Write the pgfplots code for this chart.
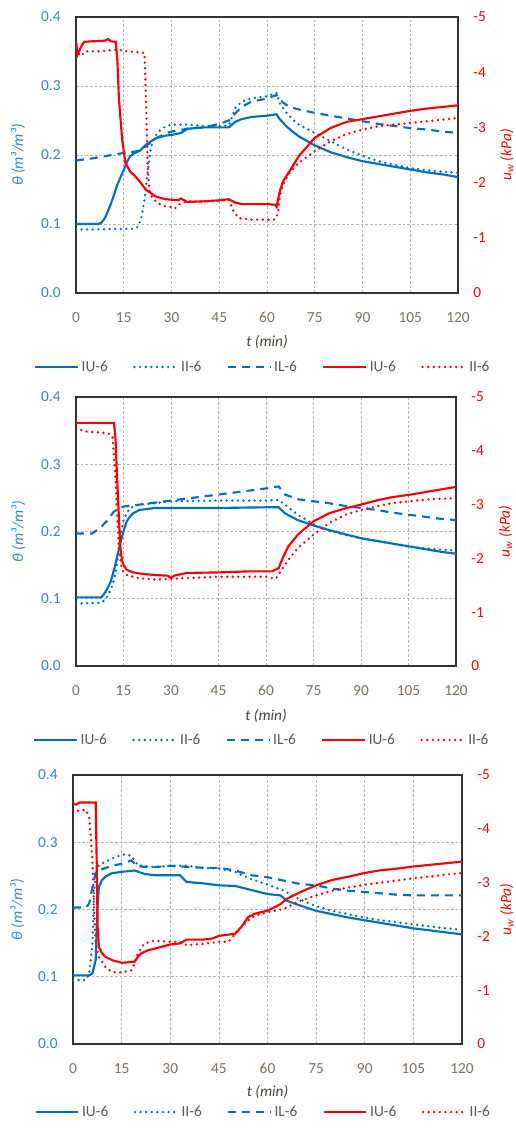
\documentclass[border=0pt]{standalone}
\usepackage{fontspec}
\setmainfont{Carlito}
\usepackage{pgfplots}
\pgfplotsset{compat=1.18}

\definecolor{Blu}{HTML}{0070C0}
\definecolor{BluTxt}{HTML}{2F86D2}
\definecolor{Rd}{HTML}{FF0000}
\definecolor{Brn}{HTML}{7F6F60}
\definecolor{Gry}{HTML}{595959}
\definecolor{GridC}{HTML}{B4B4B4}

\pgfplotsset{
  bsolid/.style={Blu, line width=1.6pt},
  bdot/.style={Blu, line width=2pt, line cap=round, dash pattern=on 0pt off 4.2pt},
  bdash/.style={Blu, line width=1.6pt, dash pattern=on 6pt off 4.5pt},
  rsolid/.style={Rd, line width=1.6pt},
  rdot/.style={Rd, line width=2pt, line cap=round, dash pattern=on 0pt off 4.2pt},
  common/.style={
    scale only axis,
    xmin=0, xmax=120,
    major tick length=0pt,
    ticklabel style={font=\fontsize{11.5}{13}\selectfont},
    /pgf/number format/assume math mode=true,
  },
  leftax/.style={
    common,
    ymin=0, ymax=0.4,
    xtick={0,15,...,120},
    ytick={0,0.1,0.2,0.3,0.4},
    grid=major,
    grid style={GridC, line width=0.5pt, dash pattern=on 2pt off 1.5pt},
    axis line style={black!80, line width=0.8pt},
    xticklabel style={Brn},
    yticklabel style={BluTxt, /pgf/number format/.cd, fixed, fixed zerofill, precision=1},
    xticklabel shift=11pt,
    yticklabel shift=8pt,
    xlabel={\itshape t (min)},
    xlabel style={font=\fontsize{11.5}{13}\selectfont, Brn!60!black, anchor=center},
    ylabel={\itshape θ (m³/m³)},
    ylabel style={font=\fontsize{11.5}{13}\selectfont, BluTxt, anchor=center},
  },
  rightax/.style={
    common,
    ymin=-5, ymax=0, y dir=reverse,
    axis y line*=right, axis x line=none,
    axis line style={draw=none},
    ytick={-5,-4,-3,-2,-1,0},
    yticklabel style={Rd},
    yticklabel shift=8pt,
    ylabel={\itshape u\textsubscript{w} (kPa)},
    ylabel style={font=\fontsize{11.5}{13}\selectfont, Rd, anchor=center},
    legend columns=5,
    legend cell align=left,
    legend image code/.code={\draw[##1] (0pt,0pt) -- (32pt,0pt);},
    legend style={draw=none, fill=none, text=Gry, font=\fontsize{11.5}{13}\selectfont,
      anchor=center, /tikz/every even column/.append style={column sep=17pt}},
  },
}

\begin{document}
\begin{tikzpicture}
\path[use as bounding box] (0,0) rectangle (386.25pt,-846pt);

% ---------- panel 1 ----------
\begin{axis}[leftax, at={(57pt,-219.75pt)}, anchor=south west, width=286.5pt, height=207pt,
  xlabel style={at={(axis description cs:0.5,-0.178)}},
  ylabel style={at={(axis description cs:-0.152,0.5)}}]
\addplot[bsolid] coordinates {(0,0.100) (7,0.100) (8,0.102) (9,0.108) (10,0.118) (11,0.130) (12,0.143) (13,0.157) (14,0.168) (15,0.178) (16,0.190) (17,0.198) (18,0.202) (20,0.206) (22,0.215) (25,0.224) (28,0.228) (30,0.229) (33,0.232) (35,0.238) (40,0.240) (45,0.240) (48,0.240) (50,0.248) (52,0.252) (55,0.255) (60,0.257) (63,0.259) (64,0.252) (66,0.242) (68,0.234) (70,0.227) (75,0.214) (80,0.204) (85,0.197) (90,0.191) (95,0.187) (100,0.183) (105,0.179) (110,0.175) (115,0.172) (120,0.168)};
\addplot[bdot] coordinates {(0,0.092) (18,0.093) (19.5,0.096) (20.5,0.108) (21.5,0.135) (22.5,0.175) (23.5,0.210) (24.5,0.225) (26,0.234) (28,0.241) (30,0.244) (35,0.244) (40,0.242) (45,0.242) (48,0.243) (49,0.255) (50,0.268) (52,0.277) (55,0.282) (60,0.285) (63,0.290) (64,0.275) (66,0.262) (68,0.252) (70,0.244) (75,0.232) (80,0.220) (85,0.208) (90,0.199) (95,0.191) (100,0.186) (105,0.181) (110,0.178) (115,0.176) (120,0.174)};
\addplot[bdash] coordinates {(0,0.192) (5,0.195) (10,0.199) (15,0.203) (20,0.206) (22,0.213) (25,0.224) (28,0.231) (30,0.234) (35,0.238) (40,0.240) (45,0.245) (48,0.250) (50,0.260) (52,0.270) (55,0.277) (58,0.280) (60,0.282) (63,0.287) (65,0.276) (67,0.270) (70,0.266) (75,0.261) (80,0.257) (85,0.253) (90,0.249) (95,0.245) (100,0.242) (105,0.239) (110,0.237) (115,0.234) (120,0.232)};
\end{axis}
\begin{axis}[rightax, at={(57pt,-219.75pt)}, anchor=south west, width=286.5pt, height=207pt,
  ylabel style={at={(axis description cs:1.128,0.5)}},
  legend style={at={(axis description cs:0.49,-0.268)}}]
\addlegendimage{bsolid}\addlegendentry{IU-6}
\addlegendimage{bdot}\addlegendentry{II-6}
\addlegendimage{bdash}\addlegendentry{IL-6}
\addplot[rsolid] coordinates {(0,-4.56) (0.5,-4.32) (1.5,-4.45) (2.5,-4.55) (5,-4.56) (9,-4.57) (10,-4.60) (11,-4.56) (12.5,-4.55) (13,-4.20) (13.5,-3.50) (14.5,-2.78) (15.5,-2.36) (17,-2.20) (18.5,-2.12) (20,-2.02) (22,-1.87) (25,-1.75) (28,-1.70) (30,-1.69) (32,-1.68) (33,-1.71) (35,-1.65) (40,-1.66) (45,-1.68) (48,-1.70) (50,-1.64) (52,-1.61) (55,-1.61) (60,-1.61) (62.5,-1.60) (63,-1.56) (64,-1.84) (65,-2.02) (67,-2.20) (70,-2.48) (75,-2.81) (80,-2.99) (85,-3.10) (90,-3.15) (95,-3.20) (100,-3.25) (105,-3.30) (110,-3.34) (115,-3.37) (120,-3.40)};
\addlegendentry{IU-6}
\addplot[rdot] coordinates {(0,-4.41) (1.5,-4.29) (3,-4.38) (8,-4.38) (13,-4.41) (16,-4.38) (21.5,-4.35) (22,-3.50) (22.5,-2.30) (23,-1.87) (24,-1.72) (26,-1.62) (28,-1.57) (30,-1.56) (31,-1.53) (33,-1.63) (35,-1.66) (40,-1.66) (45,-1.67) (48,-1.69) (49.5,-1.48) (51,-1.36) (55,-1.33) (60,-1.33) (62.5,-1.33) (63.5,-1.45) (64,-1.75) (65,-1.96) (67,-2.17) (70,-2.36) (75,-2.57) (80,-2.75) (85,-2.88) (90,-2.96) (95,-3.02) (100,-3.05) (105,-3.08) (110,-3.11) (115,-3.14) (120,-3.17)};
\addlegendentry{II-6}
\end{axis}

% ---------- panel 2 ----------
\begin{axis}[leftax, at={(57pt,-499.5pt)}, anchor=south west, width=285pt, height=201.75pt,
  xlabel style={at={(axis description cs:0.5,-0.186)}},
  ylabel style={at={(axis description cs:-0.152,0.5)}}]
\addplot[bsolid] coordinates {(0,0.102) (8,0.102) (9,0.108) (10,0.116) (11,0.126) (12,0.143) (13,0.163) (14,0.183) (15,0.200) (16,0.215) (17,0.222) (18,0.227) (20,0.232) (25,0.235) (30,0.235) (45,0.235) (60,0.236) (64,0.236) (66,0.227) (70,0.217) (75,0.209) (80,0.202) (85,0.196) (90,0.190) (95,0.186) (100,0.182) (105,0.178) (110,0.174) (115,0.170) (120,0.167)};
\addplot[bdot] coordinates {(0,0.093) (8,0.094) (9,0.098) (10,0.104) (11,0.113) (12,0.128) (13,0.153) (14,0.193) (15,0.217) (16,0.227) (17,0.235) (20,0.240) (25,0.242) (30,0.245) (45,0.246) (60,0.246) (64,0.247) (66,0.240) (70,0.225) (75,0.211) (80,0.201) (85,0.195) (90,0.190) (95,0.186) (100,0.182) (105,0.178) (110,0.175) (115,0.173) (120,0.172)};
\addplot[bdash] coordinates {(0,0.197) (5,0.197) (6,0.200) (8,0.207) (10,0.217) (12,0.230) (15,0.237) (20,0.240) (30,0.246) (40,0.252) (45,0.255) (50,0.258) (55,0.261) (60,0.264) (64,0.267) (66,0.255) (70,0.248) (75,0.245) (80,0.242) (85,0.238) (90,0.235) (95,0.232) (100,0.228) (105,0.225) (110,0.222) (115,0.219) (120,0.217)};
\end{axis}
\begin{axis}[rightax, at={(57pt,-499.5pt)}, anchor=south west, width=285pt, height=201.75pt,
  ylabel style={at={(axis description cs:1.13,0.5)}},
  legend style={at={(axis description cs:0.49,-0.275)}}]
\addlegendimage{bsolid}\addlegendentry{IU-6}
\addlegendimage{bdot}\addlegendentry{II-6}
\addlegendimage{bdash}\addlegendentry{IL-6}
\addplot[rsolid] coordinates {(0,-4.52) (12,-4.52) (12.5,-4.20) (13,-3.46) (14,-2.22) (14.5,-1.97) (15,-1.88) (16,-1.79) (18,-1.74) (20,-1.72) (25,-1.69) (29,-1.68) (30,-1.63) (31,-1.68) (35,-1.73) (45,-1.74) (55,-1.76) (62,-1.76) (64,-1.82) (65,-1.97) (67,-2.22) (70,-2.44) (73,-2.59) (75,-2.69) (80,-2.84) (85,-2.93) (90,-3.00) (95,-3.08) (100,-3.14) (105,-3.18) (110,-3.23) (115,-3.28) (120,-3.33)};
\addlegendentry{IU-6}
\addplot[rdot] coordinates {(0,-4.42) (3,-4.36) (10,-4.33) (11.5,-4.27) (12.5,-3.46) (13.5,-2.22) (14.5,-1.79) (16,-1.69) (20,-1.63) (25,-1.61) (30,-1.62) (45,-1.66) (55,-1.66) (60,-1.66) (63,-1.62) (65,-1.79) (67,-1.97) (70,-2.19) (75,-2.44) (80,-2.66) (85,-2.81) (90,-2.90) (95,-2.97) (100,-3.03) (105,-3.06) (110,-3.09) (115,-3.11) (120,-3.12)};
\addlegendentry{II-6}
\end{axis}

% ---------- panel 3 ----------
\begin{axis}[leftax, at={(54.75pt,-783pt)}, anchor=south west, width=291.75pt, height=201.75pt,
  xlabel style={at={(axis description cs:0.5,-0.178)}},
  ylabel style={at={(axis description cs:-0.143,0.5)}}]
\addplot[bsolid] coordinates {(0,0.102) (5,0.102) (6,0.105) (7,0.125) (7.5,0.200) (8,0.234) (9,0.244) (10,0.249) (12,0.254) (15,0.256) (19,0.258) (22,0.253) (25,0.251) (33,0.251) (35,0.241) (40,0.239) (45,0.236) (50,0.235) (55,0.229) (60,0.223) (64,0.221) (66,0.213) (70,0.206) (75,0.198) (80,0.193) (85,0.188) (90,0.184) (95,0.180) (100,0.176) (105,0.172) (110,0.169) (115,0.166) (120,0.163)};
\addplot[bdot] coordinates {(0,0.095) (4,0.095) (5,0.105) (6,0.149) (6.5,0.224) (7,0.254) (8,0.266) (10,0.271) (13,0.278) (16,0.282) (18,0.280) (19,0.273) (20,0.266) (25,0.263) (30,0.265) (35,0.265) (40,0.262) (45,0.261) (50,0.256) (55,0.245) (60,0.237) (65,0.228) (70,0.215) (75,0.205) (80,0.198) (85,0.193) (90,0.188) (95,0.184) (100,0.181) (105,0.178) (110,0.175) (115,0.172) (120,0.170)};
\addplot[bdash] coordinates {(0,0.203) (4,0.203) (5,0.209) (6,0.233) (7,0.255) (9,0.260) (12,0.265) (15,0.268) (18,0.273) (20,0.264) (25,0.263) (30,0.265) (40,0.262) (45,0.262) (50,0.258) (55,0.251) (60,0.248) (65,0.243) (70,0.238) (75,0.236) (80,0.231) (85,0.228) (90,0.226) (95,0.224) (100,0.222) (105,0.221) (110,0.221) (115,0.221) (120,0.221)};
\end{axis}
\begin{axis}[rightax, at={(54.75pt,-783pt)}, anchor=south west, width=291.75pt, height=201.75pt,
  ylabel style={at={(axis description cs:1.115,0.5)}},
  legend style={at={(axis description cs:0.49,-0.253)}}]
\addlegendimage{bsolid}\addlegendentry{IU-6}
\addlegendimage{bdot}\addlegendentry{II-6}
\addlegendimage{bdash}\addlegendentry{IL-6}
\addplot[rsolid] coordinates {(0,-4.47) (1,-4.45) (2,-4.49) (7,-4.49) (7.3,-3.42) (7.6,-2.18) (8,-1.80) (9,-1.68) (10,-1.62) (12,-1.56) (15,-1.51) (19,-1.53) (20,-1.62) (21,-1.68) (23,-1.74) (25,-1.77) (30,-1.85) (33,-1.87) (35,-1.94) (40,-1.94) (43,-1.96) (45,-2.01) (50,-2.05) (52,-2.18) (54,-2.36) (56,-2.42) (60,-2.48) (64,-2.60) (66,-2.70) (70,-2.82) (75,-2.95) (80,-3.05) (85,-3.11) (90,-3.18) (95,-3.23) (100,-3.26) (105,-3.30) (110,-3.33) (115,-3.36) (120,-3.39)};
\addlegendentry{IU-6}
\addplot[rdot] coordinates {(0,-4.29) (2,-4.35) (4,-4.35) (5,-4.22) (6,-3.42) (6.5,-2.49) (7,-1.87) (8,-1.62) (10,-1.43) (12,-1.34) (15,-1.33) (18,-1.37) (19,-1.50) (20,-1.68) (22,-1.87) (25,-1.92) (30,-1.90) (33,-1.90) (35,-1.84) (40,-1.86) (45,-1.90) (48,-1.90) (50,-2.05) (52,-2.18) (55,-2.35) (57,-2.40) (60,-2.45) (65,-2.51) (70,-2.66) (75,-2.76) (80,-2.85) (85,-2.91) (90,-2.96) (95,-3.00) (100,-3.04) (105,-3.08) (110,-3.11) (115,-3.15) (120,-3.18)};
\addlegendentry{II-6}
\end{axis}
\end{tikzpicture}
\end{document}
